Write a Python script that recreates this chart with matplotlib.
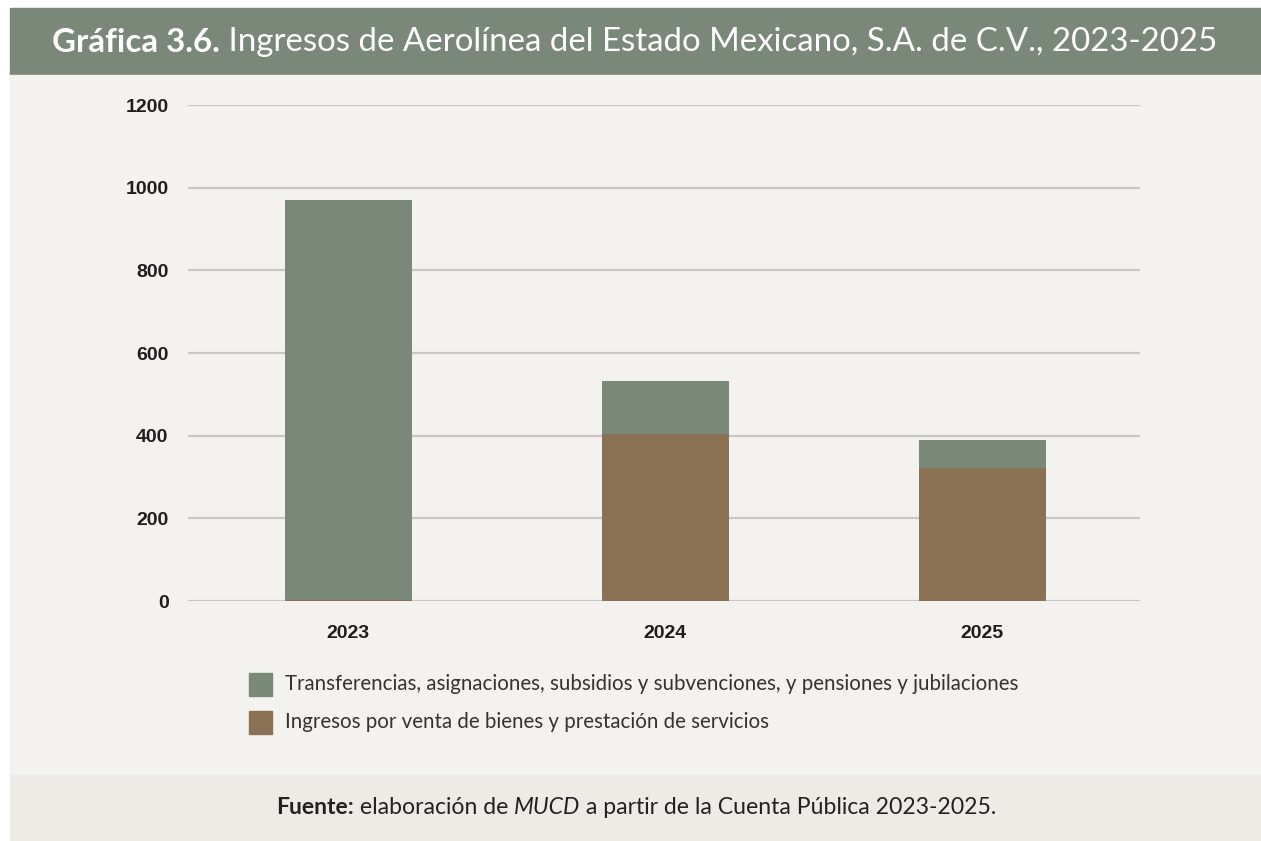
import matplotlib
matplotlib.use("Agg")
import matplotlib.pyplot as plt
from matplotlib.patches import Rectangle

# datos (millones de pesos)
years = ["2023", "2024", "2025"]
ventas = [2, 404, 322]
transferencias = [968, 128, 68]
legend_labels = [
    "Transferencias, asignaciones, subsidios y subvenciones, y pensiones y jubilaciones",
    "Ingresos por venta de bienes y prestación de servicios",
]
yticks = [0, 200, 400, 600, 800, 1000, 1200]

green = "#7a8879"
brown = "#8a7153"
bg = "#f4f2ee"
foot_bg = "#eeebe6"

W, H = 1261, 841
fig = plt.figure(figsize=(W / 100, H / 100), dpi=100)
fig.patch.set_facecolor("white")

# fondos: encabezado, cuerpo, pie
def band(y0, y1, color):
    fig.add_artist(Rectangle((10 / W, 1 - y1 / H), 1 - 10 / W, (y1 - y0) / H,
                             transform=fig.transFigure, color=color, zorder=0))

band(8, 75, green)
band(75, 775, bg)
band(775, 841, foot_bg)

ax = fig.add_axes([188 / W, 1 - 601 / H, (1140 - 188) / W, (601 - 105) / H])
ax.patch.set_alpha(0)
x = range(len(years))
ax.bar(x, ventas, width=0.4, color=brown, linewidth=0, zorder=3)
ax.bar(x, transferencias, bottom=ventas, width=0.4, color=green, linewidth=0, zorder=3)
ax.set_xlim(-0.505, 2.497)
ax.set_ylim(0, 1200)
ax.set_yticks(yticks)
ax.yaxis.grid(True, color="#c9c7c3", linewidth=1.6, zorder=1)
ax.set_axisbelow(True)
for s in ax.spines.values():
    s.set_visible(False)
ax.tick_params(length=0)
ax.set_xticks(list(x))
ax.set_xticklabels(years, fontsize=14, fontweight="bold", family="Liberation Sans", color="#1e1e1e")
ax.set_yticklabels([str(t) for t in yticks], fontsize=14, fontweight="bold",
                   family="Liberation Sans", color="#1e1e1e")
ax.tick_params(axis="x", pad=17)
ax.tick_params(axis="y", pad=14)

# leyenda manual
for i, (lab, col) in enumerate(zip(legend_labels, [green, brown])):
    yc = 684 + i * 38
    fig.add_artist(Rectangle((249 / W, 1 - (yc + 11.5) / H), 23 / W, 23 / H,
                             transform=fig.transFigure, color=col))
    fig.text(285 / W, 1 - yc / H, lab, fontsize=14.8, family="Lato", color="#333333",
             va="center", ha="left")

# textos con estilos mezclados
def mixed(parts, x0, yc, size, color, center=False):
    r = fig.canvas.get_renderer()
    texts = []
    for s, w, st in parts:
        t = fig.text(0, 1 - yc / H, s, fontsize=size, family="Lato", fontweight=w,
                     style=st, color=color, va="center", ha="left")
        texts.append(t)
    widths = [t.get_window_extent(r).width for t in texts]
    total = sum(widths)
    xp = x0 - total / 2 if center else x0
    for t, wd in zip(texts, widths):
        t.set_x(xp / W)
        xp += wd

mixed([("Gráfica 3.6.", "bold", "normal"),
       (" Ingresos de Aerolínea del Estado Mexicano, S.A. de C.V., 2023-2025", "normal", "normal")],
      635, 42, 23.8, "white", center=True)
mixed([("Fuente:", "bold", "normal"), (" elaboración de ", "normal", "normal"),
       ("MUCD", "normal", "italic"),
       (" a partir de la Cuenta Pública 2023-2025.", "normal", "normal")],
      636, 808, 16.6, "#222222", center=True)

fig.savefig("out.png", dpi=100, facecolor=fig.get_facecolor())
